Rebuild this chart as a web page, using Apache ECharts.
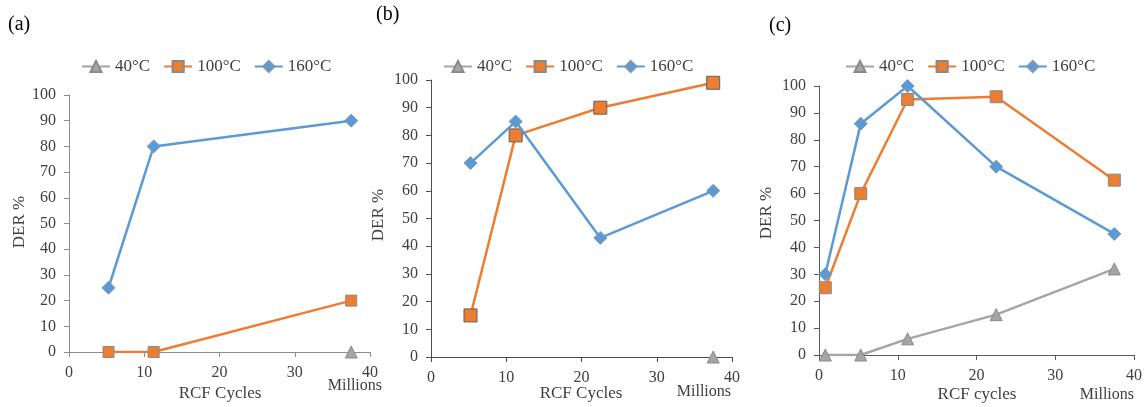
<!DOCTYPE html>
<html>
<head>
<meta charset="utf-8">
<title>DER % vs RCF cycles</title>
<script src="https://cdn.jsdelivr.net/npm/echarts@6/dist/echarts.min.js"></script>
<style>
  html, body { margin: 0; padding: 0; background: #fff; }
  #chart { width: 1147px; height: 407px; }
</style>
</head>
<body>
<div id="chart"></div>
<script>
// RCF cycles (millions) at which each test was evaluated
const cyclesA = [5.25, 11.25, 37.5];
const cyclesB = [5.25, 11.25, 22.5, 37.5];
const cyclesC = [0.8, 5.3, 11.25, 22.5, 37.5];

// DER % values per temperature, panel (a)
const a40 = [null, null, 0];
const a100 = [0, 0, 20];
const a160 = [25, 80, 90];

// panel (b)
const b40 = [null, null, null, 0];
const b100 = [15, 80, 90, 99];
const b160 = [70, 85, 43, 60];

// panel (c)
const c40 = [0, 0, 6, 15, 32];
const c100 = [25, 60, 95, 96, 65];
const c160 = [30, 86, 100, 70, 45];

const legendNames = ['40°C', '100°C', '160°C'];
const yTicks = { min: 0, max: 100, interval: 10 };
const xTicks = { min: 0, max: 40, interval: 10 };

const FONT = 'Liberation Serif';
const CSSFONT = '"Liberation Serif", serif';
const TEXT = '#404040';
const COLORS = { t40: '#a5a5a5', t100: '#ed7d31', t160: '#5b9bd5' };

function pairs(xs, ys) {
  const out = [];
  xs.forEach((x, i) => { if (ys[i] !== null) out.push([x, ys[i]]); });
  return out;
}

const grids = [
  { left: 69, top: 95, width: 301, height: 257 },
  { left: 431, top: 80, width: 301, height: 277 },
  { left: 819, top: 86, width: 315, height: 269 }
];
const axisColors = ['#8c8c8c', '#4d4d4d', '#595959'];

const tickRich = { t: { fontFamily: FONT, fontSize: 16, color: TEXT } };

const xAxes = grids.map((g, i) => ({
  type: 'value', gridIndex: i, min: xTicks.min, max: xTicks.max, interval: xTicks.interval,
  splitLine: { show: false },
  axisLine: { show: true, onZero: false, lineStyle: { color: axisColors[i], width: 1 } },
  axisTick: { show: true, length: 5, inside: false, lineStyle: { color: axisColors[i] } },
  axisLabel: { fontFamily: FONT, fontSize: 16, color: TEXT, margin: 13, formatter: '{t|{value}}', rich: tickRich }
}));
const yAxes = grids.map((g, i) => ({
  type: 'value', gridIndex: i, min: yTicks.min, max: yTicks.max, interval: yTicks.interval,
  splitLine: { show: false },
  axisLine: { show: true, lineStyle: { color: axisColors[i], width: 1 } },
  axisTick: { show: true, length: 5, inside: false, lineStyle: { color: axisColors[i] } },
  axisLabel: { fontFamily: FONT, fontSize: 16, color: TEXT, margin: 13, formatter: '{t|{value}}', rich: tickRich }
}));

function makeSeries(idx, xs, v40, v100, v160, sqSize, sqBorder) {
  return [
    {
      name: legendNames[0], type: 'line', xAxisIndex: idx, yAxisIndex: idx,
      data: pairs(xs, v40), symbol: 'triangle', symbolSize: 12,
      lineStyle: { color: COLORS.t40, width: 2.5 },
      itemStyle: { color: COLORS.t40, borderColor: '#8a8a8a', borderWidth: 1 }, z: 2
    },
    {
      name: legendNames[1], type: 'line', xAxisIndex: idx, yAxisIndex: idx,
      data: pairs(xs, v100), symbol: 'rect', symbolSize: sqSize,
      lineStyle: { color: COLORS.t100, width: 2.5 },
      itemStyle: { color: COLORS.t100, borderColor: sqBorder, borderWidth: 1 }, z: 3
    },
    {
      name: legendNames[2], type: 'line', xAxisIndex: idx, yAxisIndex: idx,
      data: pairs(xs, v160), symbol: 'diamond', symbolSize: 13,
      lineStyle: { color: COLORS.t160, width: 2.5 },
      itemStyle: { color: COLORS.t160, borderColor: '#7f97b0', borderWidth: 1 }, z: 4
    }
  ];
}

const series = [].concat(
  makeSeries(0, cyclesA, a40, a100, a160, 11, '#8a8a8a'),
  makeSeries(1, cyclesB, b40, b100, b160, 13, '#5f5f5f'),
  makeSeries(2, cyclesC, c40, c100, c160, 12, '#8a8a8a')
);

// one legend above each panel
const legendLefts = [76, 438, 840];
const legends = legendLefts.map((left) => ({
  left: left, top: 53, itemWidth: 28, itemHeight: 14, itemGap: 13,
  data: legendNames,
  selectedMode: false,
  textStyle: { fontFamily: FONT, fontSize: 17, color: TEXT }
}));

function txt(x, y, text, size, align, extra, fill) {
  return Object.assign({
    type: 'text', x: x, y: y,
    style: { text: text, font: size + 'px ' + CSSFONT, fill: fill || TEXT, textAlign: align || 'center', textVerticalAlign: 'middle' }
  }, extra || {});
}

const graphic = [
  txt(8, 25, '(a)', 20, 'left', null, '#000'),
  txt(376, 15, '(b)', 20, 'left', null, '#000'),
  txt(769, 26, '(c)', 20, 'left', null, '#000'),

  txt(20, 222, 'DER %', 17, 'center', { rotation: Math.PI / 2 }),
  txt(379, 215, 'DER %', 17, 'center', { rotation: Math.PI / 2 }),
  txt(767, 213, 'DER %', 17, 'center', { rotation: Math.PI / 2 }),

  txt(220, 394, 'RCF Cycles', 17),
  txt(382, 386, 'Millions', 16, 'right'),
  txt(581, 394, 'RCF Cycles', 17),
  txt(731, 392, 'Millions', 16, 'right'),
  txt(977, 395, 'RCF cycles', 17),
  txt(1134, 395, 'Millions', 16, 'right')
];

const chart = echarts.init(document.getElementById('chart'), null, { renderer: 'canvas' });
chart.setOption({
  animation: false,
  backgroundColor: '#fff',
  textStyle: { fontFamily: FONT },
  grid: grids,
  xAxis: xAxes,
  yAxis: yAxes,
  legend: legends,
  series: series,
  graphic: graphic
});
</script>
</body>
</html>
